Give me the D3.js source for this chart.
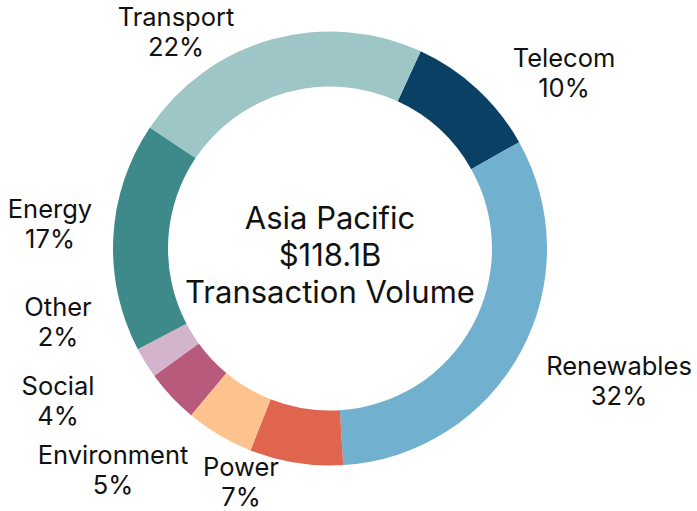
<!DOCTYPE html>
<html>
<head>
<meta charset="utf-8">
<script src="https://cdn.jsdelivr.net/npm/d3@7"></script>
<style>
  html, body { margin: 0; padding: 0; background: #fff; }
  svg text { font-family: Inter, "Open Sans", sans-serif; fill: #111; }
</style>
</head>
<body>
<svg id="donut" width="697" height="511"></svg>
<script>
// sectors, clockwise starting from Telecom
var sectors = ["Telecom", "Renewables", "Power", "Environment", "Social", "Other", "Energy", "Transport"];
var volumes = [11.8, 38.0, 8.2, 6.0, 4.7, 2.7, 20.2, 26.5]; // $B
var colors = ["#0a4064", "#71b1cf", "#e0654f", "#fec28f", "#b85a7c", "#d4b3cc", "#3e8a8a", "#9ec6c6"];
var centerLines = ["Asia Pacific", "$118.1B", "Transaction Volume"];

var svg = d3.select("svg#donut");

var cx = 330, cy = 248.5,
    outerR = 217, innerR = 162;

// where each label block sits (centre x, first baseline)
var labelPos = {
  "Telecom": [564, 67],
  "Renewables": [619, 375],
  "Power": [241, 476],
  "Environment": [113, 464],
  "Social": [58, 395],
  "Other": [58, 316],
  "Energy": [50, 218],
  "Transport": [176, 26]
};
var lineGap = 30;

var total = d3.sum(volumes);
var data = sectors.map(function(s, i) {
  return { name: s, value: volumes[i], color: colors[i] };
});

var startAngle = 24.7 * Math.PI / 180;

var pie = d3.pie()
    .sort(null)
    .value(function(d) { return d.value; })
    .startAngle(startAngle)
    .endAngle(startAngle + 2 * Math.PI);

var arc = d3.arc()
    .innerRadius(innerR)
    .outerRadius(outerR);

var g = svg.append("g")
    .attr("transform", "translate(" + cx + "," + cy + ")");

g.selectAll("path")
  .data(pie(data))
  .enter().append("path")
    .attr("d", arc)
    .style("fill", function(d) { return d.data.color; })
    .style("stroke", "none");

// centre text
g.selectAll("text.center")
  .data(centerLines)
  .enter().append("text")
    .attr("class", "center")
    .attr("text-anchor", "middle")
    .attr("y", function(d, i) { return -19.2 + i * 36.7; })
    .style("font-size", "31px")
    .text(function(d) { return d; });

// outside labels
var pct = d3.format(".0%");
var labels = svg.selectAll("text.lbl")
  .data(data)
  .enter().append("text")
    .attr("class", "lbl")
    .attr("text-anchor", "middle")
    .style("font-size", "25.5px");

labels.append("tspan")
    .attr("x", function(d) { return labelPos[d.name][0]; })
    .attr("y", function(d) { return labelPos[d.name][1]; })
    .text(function(d) { return d.name; });

labels.append("tspan")
    .attr("x", function(d) { return labelPos[d.name][0]; })
    .attr("y", function(d) { return labelPos[d.name][1] + lineGap; })
    .text(function(d) { return pct(d.value / total); });
</script>
</body>
</html>
